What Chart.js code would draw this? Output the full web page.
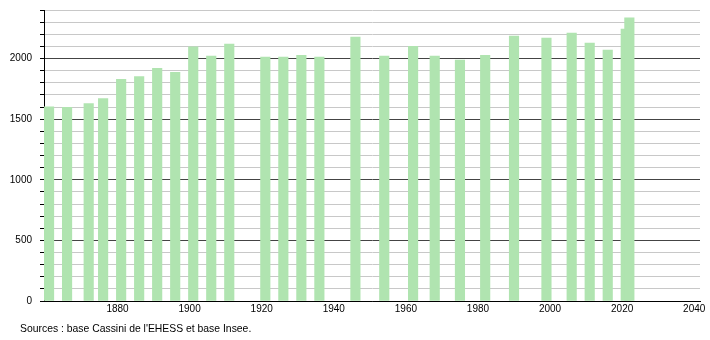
<!DOCTYPE html>
<html>
<head>
<meta charset="utf-8">
<script src="https://cdn.jsdelivr.net/npm/chart.js@4.4.0/dist/chart.umd.min.js"></script>
<style>
  body { margin: 0; background: #fff; }
</style>
</head>
<body>
<canvas id="chartPop" width="710" height="340"></canvas>
<script>
// recensements
const annees = [1861, 1866, 1872, 1876, 1881, 1886, 1891, 1896, 1901, 1906, 1911,
    1921, 1926, 1931, 1936, 1946, 1954, 1962, 1968, 1975, 1982, 1990, 1999,
    2006, 2011, 2016, 2021, 2022];
const population = [1601, 1598, 1629, 1670, 1828, 1850, 1919, 1886, 2097, 2019, 2119,
    2011, 2011, 2027, 2011, 2177, 2019, 2100, 2019, 1986, 2027, 2185, 2169,
    2210, 2127, 2069, 2243, 2335];
const ticksX = [1880, 1900, 1920, 1940, 1960, 1980, 2000, 2020, 2040];
const source = "Sources : base Cassini de l'EHESS et base Insee.";

const police = { family: '"Liberation Sans", Arial, sans-serif', size: 10 };

const pluginSource = {
    id: 'source',
    afterDraw(chart) {
        const c = chart.ctx;
        c.save();
        c.font = '10.4px "Liberation Sans", Arial, sans-serif';
        c.fillStyle = '#000';
        c.textBaseline = 'middle';
        c.fillText(source, 20, 329);
        c.restore();
    }
};

new Chart(document.getElementById('chartPop'), {
    type: 'bar',
    data: {
        datasets: [{
            data: annees.map((a, i) => ({ x: a, y: population[i] })),
            backgroundColor: 'rgb(176,228,176)',
            barThickness: 9.5
        }]
    },
    options: {
        responsive: false,
        devicePixelRatio: 1,
        animation: false,
        layout: { padding: { top: 10, right: 10, left: 0, bottom: 0 } },
        plugins: { legend: { display: false }, tooltip: { enabled: false } },
        scales: {
            x: {
                type: 'linear',
                offset: false,
                min: 1859.6,
                max: 2041.6,
                afterBuildTicks: s => { s.ticks = ticksX.map(v => ({ value: v })); },
                afterFit: s => { s.height = 39; s.paddingLeft = 0; s.paddingRight = 0; },
                grid: { display: false, drawTicks: false },
                border: { color: '#000' },
                ticks: { font: police, color: '#000', autoSkip: false, maxRotation: 0, padding: 2,
                    callback: v => String(v) }
            },
            y: {
                min: 0,
                max: 2400,
                afterFit: s => { s.width = 44; s.paddingTop = 0; s.paddingBottom = 0; },
                border: { color: '#000' },
                grid: {
                    color: c => (c.tick && c.tick.value % 500 === 0) ? '#444' : '#c8c8c8',
                    tickColor: '#000',
                    tickLength: 4
                },
                ticks: {
                    stepSize: 100,
                    font: police,
                    color: '#000',
                    padding: 8,
                    autoSkip: false,
                    callback: v => v % 500 === 0 ? v : ''
                }
            }
        }
    },
    plugins: [pluginSource]
});
</script>
</body>
</html>
